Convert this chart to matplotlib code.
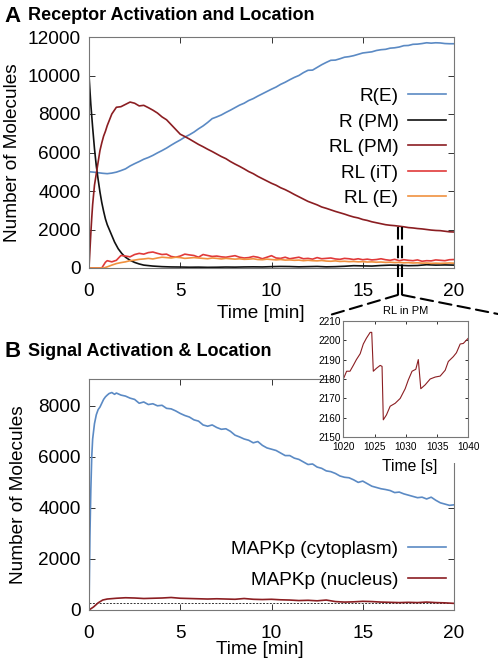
import matplotlib
matplotlib.use("Agg")
import matplotlib.pyplot as plt
from matplotlib.patches import Rectangle, ConnectionPatch

plt.rcParams['font.family'] = ['Liberation Sans', 'DejaVu Sans']

# ---------------- Panel A data (time in min) ----------------
t_q = [0, .25, .5, .75, 1, 1.25, 1.5, 1.75, 2, 2.25, 2.5, 2.75, 3, 3.25, 3.5, 3.75, 4, 4.25, 4.5, 4.75,
       5, 5.25, 5.5, 5.75, 6, 6.25, 6.5, 6.75, 7, 7.25, 7.5, 7.75, 8, 8.25, 8.5, 8.75, 9, 9.25, 9.5, 9.75,
       10, 10.25, 10.5, 10.75, 11, 11.25, 11.5, 11.75, 12, 12.25, 12.5, 12.75, 13, 13.25, 13.5, 13.75,
       14, 14.25, 14.5, 14.75, 15, 15.25, 15.5, 15.75, 16, 16.25, 16.5, 16.75, 17, 17.25, 17.5, 17.75,
       18, 18.25, 18.5, 18.75, 19, 19.25, 19.5, 19.75, 20]

r_e = [5000, 4980, 4950, 4920, 4900, 4930, 4980, 5060, 5150, 5300, 5420, 5530, 5650, 5740, 5850, 5980,
       6100, 6230, 6380, 6520, 6650, 6800, 6920, 7060, 7230, 7380, 7560, 7760, 7850, 7950, 8080, 8200,
       8330, 8460, 8560, 8700, 8800, 8930, 9050, 9170, 9290, 9400, 9540, 9650, 9780, 9900, 10000, 10150,
       10270, 10280, 10420, 10560, 10680, 10790, 10800, 10870, 10950, 10980, 11030, 11100, 11170, 11200,
       11230, 11300, 11340, 11360, 11420, 11440, 11480, 11550, 11560, 11620, 11630, 11660, 11700, 11680,
       11700, 11690, 11660, 11650, 11650]

t_rpm = [0, .1, .2, .3, .4, .5, .6, .7, .8, .9, 1.0, 1.2, 1.4, 1.6, 1.8, 2.0, 2.25, 2.5, 2.75, 3, 3.5, 4,
         4.5, 5, 5.5, 6, 6.5, 7, 7.5, 8, 8.5, 9, 9.5, 10, 10.5, 11, 11.5, 12, 12.5, 13, 13.5, 14, 14.5, 15,
         15.5, 16, 16.5, 17, 17.5, 18, 18.5, 19, 19.5, 20]
r_pm = [10000, 8500, 7300, 6200, 5300, 4600, 3950, 3400, 2950, 2550, 2250, 1800, 1350, 1000, 750, 560,
        400, 290, 210, 150, 100, 70, 55, 50, 40, 45, 35, 40, 50, 45, 55, 60, 55, 70, 80, 75, 60, 70, 80,
        60, 70, 90, 120, 110, 100, 130, 150, 140, 120, 130, 170, 150, 160, 150]

t_rlpm = [0, .05, .1, .15, .2, .3, .4, .5, .6, .7, .8, .9] + t_q[4:]
rl_pm = [0, 900, 1800, 2600, 3300, 4300, 4900, 5500, 6100, 6500, 6850, 7100,
         7400, 8000, 8350, 8380, 8500, 8620, 8560, 8420, 8450, 8330, 8200, 8050, 7850, 7700, 7450, 7200,
         6950, 6830, 6700, 6560, 6420, 6300, 6170, 6050, 5920, 5790, 5680, 5530, 5400, 5280, 5150, 5010,
         4900, 4760, 4640, 4520, 4400, 4300, 4170, 4070, 3950, 3820, 3700, 3580, 3460, 3370, 3280, 3170,
         3100, 3020, 2940, 2870, 2800, 2720, 2650, 2600, 2520, 2470, 2400, 2350, 2300, 2250, 2220, 2200,
         2170, 2140, 2100, 2080, 2050, 2030, 2000, 1970, 1950, 1940, 1910, 1880, 1870]

t_it = [0, .7, .8, .9] + t_q[4:]
rl_it = [0, 0, 150, 300, 380, 320, 400, 650, 620, 580, 700, 760, 720, 800, 830, 760, 700, 720, 600, 560,
         620, 720, 680, 650, 560, 700, 650, 600, 620, 580, 560, 600, 640, 560, 520, 540, 600, 560, 480,
         560, 640, 520, 500, 560, 480, 520, 560, 480, 500, 460, 540, 480, 500, 520, 470, 450, 500, 480,
         440, 480, 430, 460, 420, 440, 480, 430, 400, 450, 380, 430, 400, 380, 420, 350, 380, 370, 420,
         400, 380, 430, 440]

t_rle = [0, .8] + t_q[4:]
rl_e = [0, 0, 60, 150, 230, 280, 320, 380, 410, 450, 470, 500, 470, 520, 560, 540, 520, 560, 540, 500,
        520, 540, 520, 500, 480, 520, 500, 470, 500, 480, 460, 480, 450, 460, 480, 440, 430, 460, 440,
        420, 440, 410, 420, 400, 410, 380, 400, 380, 370, 390, 360, 350, 370, 340, 350, 330, 340, 320,
        330, 310, 320, 300, 310, 290, 300, 280, 290, 270, 280, 260, 270, 250, 260, 240, 250, 240, 250,
        260, 250]

labels_a = ['R(E)', 'R (PM)', 'RL (PM)', 'RL (iT)', 'RL (E)']

# ---------------- Panel B data ----------------
t_cyt = [0, .05, .1, .15, .2, .3, .4, .5, .6, .7, .8, .9, 1.0, 1.1, 1.25, 1.4] + t_q[6:]
mapk_cyt = [0, 2900, 4700, 6000, 6700, 7300, 7650, 7850, 7950, 8100, 8250, 8350, 8420, 8480, 8520, 8450,
            8500, 8420, 8380, 8300, 8250, 8100, 8150, 8050, 8080, 8000, 8020, 7900, 7880, 7800, 7700, 7620,
            7560, 7450, 7400, 7250, 7200, 7250, 7150, 7080, 7100, 7000, 6850, 6780, 6700, 6650, 6550, 6600,
            6450, 6350, 6300, 6250, 6150, 6050, 6050, 5950, 5900, 5800, 5700, 5720, 5600, 5550, 5450, 5420,
            5350, 5250, 5200, 5180, 5100, 5000, 5050, 4950, 4850, 4800, 4750, 4720, 4680, 4600, 4620, 4550,
            4500, 4450, 4400, 4420, 4350, 4420, 4300, 4200, 4150, 4100, 4120]

t_nuc = [0, .25, .5, .75, 1, 1.5, 2, 2.5, 3, 3.5, 4, 4.5, 5, 5.5, 6, 6.5, 7, 7.5, 8, 8.5, 9, 9.5, 10, 10.5,
         11, 11.5, 12, 12.5, 13, 13.5, 14, 14.5, 15, 15.5, 16, 16.5, 17, 17.5, 18, 18.5, 19, 19.5, 20]
mapk_nuc = [0, 120, 280, 390, 430, 460, 480, 470, 450, 460, 470, 490, 460, 450, 440, 430, 440, 430, 420,
            450, 420, 410, 420, 400, 390, 370, 380, 360, 390, 330, 310, 320, 340, 330, 310, 300, 290, 300,
            290, 310, 290, 280, 260]
baseline_b = 270
labels_b = ['MAPKp (cytoplasm)', 'MAPKp (nucleus)']

# ---------------- Inset data (time in s) ----------------
t_ins = [1020, 1020.01, 1020.53, 1021.07, 1021.6, 1022.1, 1022.7, 1023.2, 1023.7, 1024.3, 1024.55, 1024.8,
         1025.3, 1025.9, 1026.2, 1026.4, 1026.9, 1027.5, 1028.3, 1029.1, 1029.9, 1030.4, 1031.0, 1031.6,
         1032.0, 1032.4, 1033.1, 1033.9, 1034.7, 1035.5, 1036.3, 1036.8, 1037.6, 1038.1, 1038.7, 1039.2,
         1040]
rl_ins = [2195, 2180, 2184, 2184, 2187, 2190, 2193, 2198, 2201, 2204, 2204, 2184, 2185.5, 2187, 2186.5,
          2159, 2161.5, 2166, 2167.5, 2170, 2175, 2179.5, 2184, 2185, 2190, 2175, 2177, 2180, 2181, 2181.5,
          2184.5, 2189, 2191.5, 2193.5, 2198, 2198.3, 2201]

# ---------------- Styling ----------------
BLUE = '#5b8ac4'
BLACK = '#111111'
DRED = '#8b1e22'
RED = '#e03a3a'
ORANGE = '#f0913f'
SPINE = '#777777'
FS = 13.7

W, H = 498, 665
fig = plt.figure(figsize=(W / 100, H / 100), dpi=100)


def fx(px):
    return px / W


def fy(py):
    return 1 - py / H


def style_axes(ax, fs=FS, pad=6, length=4):
    for s in ax.spines.values():
        s.set_color(SPINE)
        s.set_linewidth(0.8)
    ax.tick_params(direction='in', top=True, right=True, labelsize=fs, length=length,
                   width=0.7, color='#333333', pad=pad)


# Panel A
axA = fig.add_axes([fx(89), fy(268), fx(454) - fx(89), fy(37) - fy(268)])
axA.plot(t_q, r_e, color=BLUE, lw=1.2, label=labels_a[0])
axA.plot(t_rpm, r_pm, color=BLACK, lw=1.2, label=labels_a[1])
axA.plot(t_rlpm, rl_pm, color=DRED, lw=1.2, label=labels_a[2])
axA.plot(t_it, rl_it, color=RED, lw=1.2, label=labels_a[3])
axA.plot(t_rle, rl_e, color=ORANGE, lw=1.2, label=labels_a[4])
axA.set_xlim(0, 20)
axA.set_ylim(0, 12000)
axA.set_xticks([0, 5, 10, 15, 20])
axA.set_yticks(range(0, 12001, 2000))
style_axes(axA)
axA.tick_params(axis='x', pad=11)
axA.set_xlabel('Time [min]', fontsize=FS)
axA.set_ylabel('Number of Molecules', fontsize=FS)
axA.xaxis.set_label_coords(0.471, -0.160)
axA.yaxis.set_label_coords(-0.186, 0.5)
axA.legend(loc='upper right', bbox_to_anchor=(0.978, 0.78), frameon=False, markerfirst=False,
           fontsize=FS, handlelength=2.0, handletextpad=0.5, labelspacing=0.43,
           borderpad=0, borderaxespad=0)

# Panel B
axB = fig.add_axes([fx(89), fy(610), fx(454) - fx(89), fy(379) - fy(610)])
axB.axhline(baseline_b, color='#333333', lw=0.7, ls=(0, (2, 1.5)))
axB.plot(t_cyt, mapk_cyt, color=BLUE, lw=1.2, label=labels_b[0])
axB.plot(t_nuc, mapk_nuc, color=DRED, lw=1.2, label=labels_b[1])
axB.set_xlim(0, 20)
axB.set_ylim(0, 9050)
axB.set_xticks([0, 5, 10, 15, 20])
axB.set_yticks(range(0, 8001, 2000))
style_axes(axB)
axB.tick_params(axis='x', pad=11)
axB.set_xlabel('Time [min]', fontsize=FS)
axB.set_ylabel('Number of Molecules', fontsize=FS)
axB.xaxis.set_label_coords(0.468, -0.134)
axB.yaxis.set_label_coords(-0.170, 0.5)
handles, labs = axB.get_legend_handles_labels()
axB.legend(handles, labs, loc='upper right', bbox_to_anchor=(0.978, 0.300), frameon=False,
           markerfirst=False, fontsize=FS, handlelength=2.0, handletextpad=0.5, labelspacing=0.71,
           borderpad=0, borderaxespad=0)

# White box covering the top right corner of panel B behind the inset
fig.patches.append(Rectangle((fx(333), fy(463)), 1 - fx(333), fy(299) - fy(463),
                             transform=fig.transFigure, facecolor='white', edgecolor='none',
                             zorder=1))

# Inset
axI = fig.add_axes([fx(343.3), fy(437.3), fx(468.3) - fx(343.3), fy(320.7) - fy(437.3)], zorder=2)
axI.plot(t_ins, rl_ins, color=DRED, lw=0.8)
axI.set_xlim(1020, 1040)
axI.set_ylim(2150, 2210)
axI.set_xticks([1020, 1025, 1030, 1035, 1040])
axI.set_yticks(range(2150, 2211, 10))
style_axes(axI, fs=7.2, pad=2, length=2.5)
axI.tick_params(axis='x', pad=3.5)
axI.set_title('RL in PM', fontsize=8, pad=5)
fig.text(fx(410), fy(466), 'Time [s]', fontsize=11.3, ha='center', va='center', zorder=3)

# Break marks and zoom connectors
ds = (0, (6, 3))
for tb in (16.92, 17.17):
    axA.plot([tb, tb], [2150, -1400], color='black', lw=1.5, ls=ds, clip_on=False, zorder=5)
for tb, (px, py) in ((16.92, (330, 315)), (17.17, (498, 314))):
    con = ConnectionPatch(xyA=(tb, -1400), coordsA=axA.transData,
                          xyB=(fx(px), fy(py)), coordsB='figure fraction',
                          color='black', lw=1.5, ls=ds, zorder=5)
    fig.add_artist(con)

# Panel titles
fig.text(fx(4), fy(16), 'A', fontsize=16, fontweight='bold', va='center', ha='left')
fig.text(fx(28), fy(16), 'Receptor Activation and Location', fontsize=13, fontweight='bold',
         va='center', ha='left')
fig.text(fx(4), fy(352), 'B', fontsize=16, fontweight='bold', va='center', ha='left')
fig.text(fx(28), fy(352), 'Signal Activation & Location', fontsize=13, fontweight='bold',
         va='center', ha='left')

fig.savefig('out.png', dpi=100)
